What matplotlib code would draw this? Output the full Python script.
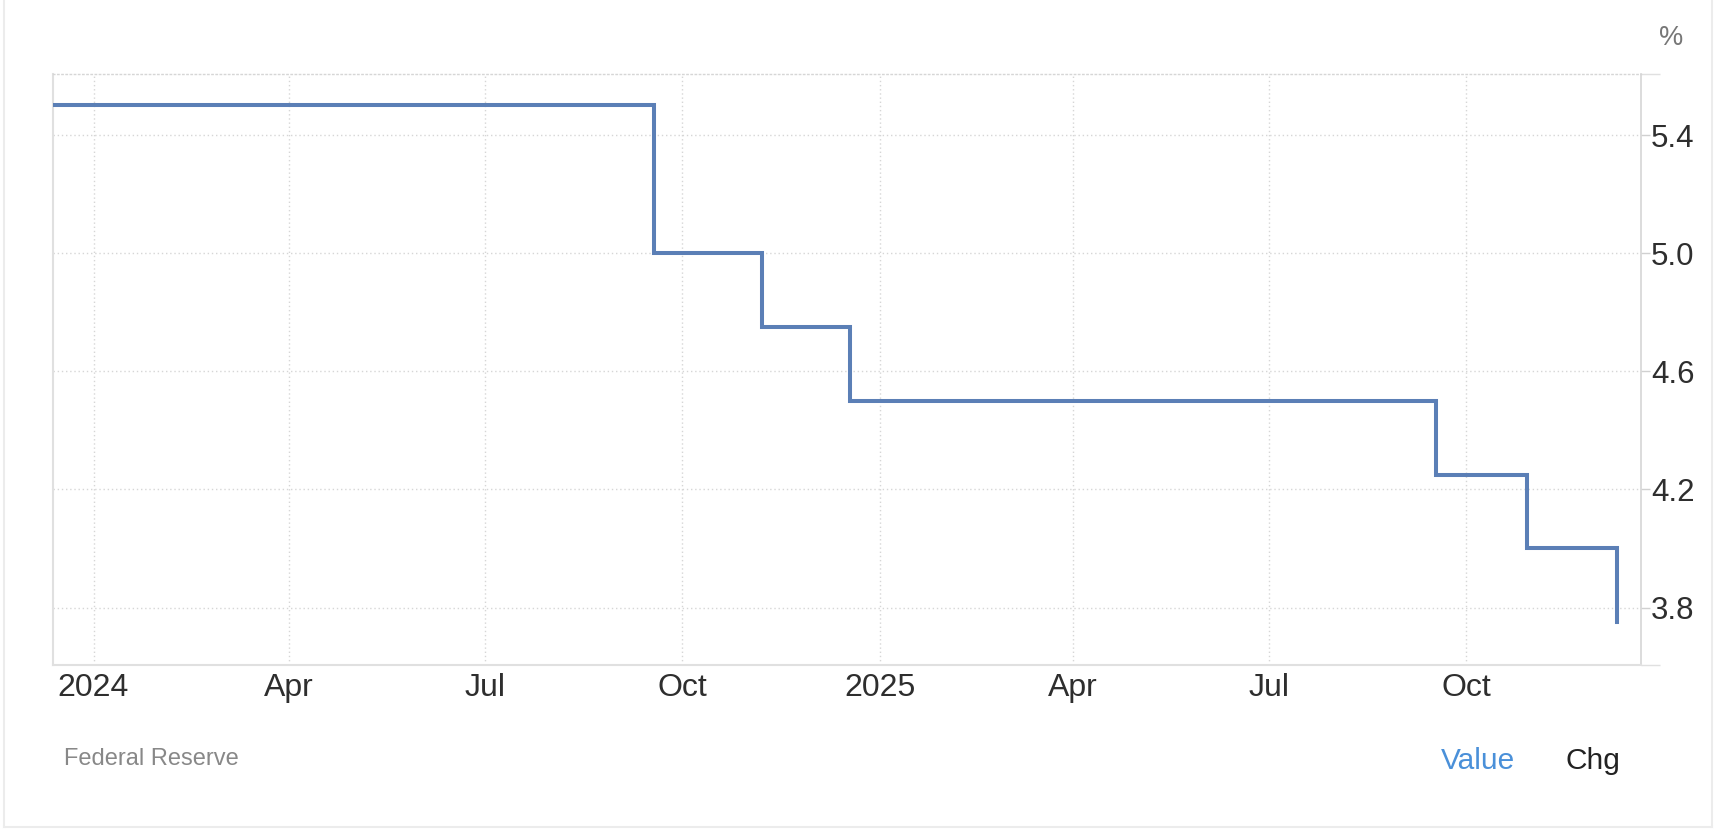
import matplotlib
matplotlib.use("Agg")
import matplotlib.pyplot as plt
import matplotlib.dates as mdates
from matplotlib.lines import Line2D
from datetime import datetime

plt.rcParams['font.family'] = ['Liberation Sans', 'DejaVu Sans']

# Fed funds target rate (upper bound), step changes
rate_dates = ['2023-12-13', '2024-09-18', '2024-11-07', '2024-12-18',
              '2025-09-17', '2025-10-29', '2025-12-10']
rate_values = [5.5, 5.0, 4.75, 4.5, 4.25, 4.0, 3.75]

x_tick_dates = ['2024-01-01', '2024-04-01', '2024-07-01', '2024-10-01',
                '2025-01-01', '2025-04-01', '2025-07-01', '2025-10-01']
x_tick_labels = ['2024', 'Apr', 'Jul', 'Oct', '2025', 'Apr', 'Jul', 'Oct']
y_ticks = [3.8, 4.2, 4.6, 5.0, 5.4]
y_tick_labels = ['3.8', '4.2', '4.6', '5.0', '5.4']

W, H = 1722, 833
fig = plt.figure(figsize=(W / 100, H / 100), dpi=100)
fig.patch.set_facecolor('white')

left, right, top, bottom = 52.7, 1640.5, 73.6, 664.5
ax = fig.add_axes([left / W, (H - bottom) / H, (right - left) / W, (bottom - top) / H])

dates = [datetime.strptime(d, '%Y-%m-%d') for d in rate_dates]
ax.step(dates, rate_values, where='post', color='#5b7fb6', lw=2.9,
        solid_joinstyle='miter', zorder=3)

ax.set_xlim(datetime(2023, 12, 13), datetime(2025, 12, 21))
ax.set_ylim(3.607, 5.608)

xt = [mdates.date2num(datetime.strptime(d, '%Y-%m-%d')) for d in x_tick_dates]
ax.set_xticks(xt)
ax.set_xticklabels(x_tick_labels)
ax.set_yticks(y_ticks)
ax.set_yticklabels(y_tick_labels)

ax.yaxis.tick_right()
ax.tick_params(axis='x', length=0, pad=6, labelsize=23, labelcolor='#2e2e2e')
ax.tick_params(axis='y', length=6.5, width=1, color='#d0d0d0', pad=1,
               labelsize=22.5, labelcolor='#2e2e2e')

# extra ticks at plot extremes on the right axis
ax.set_yticks([3.607, 5.608], minor=True)
ax.tick_params(axis='y', which='minor', length=14, width=1, color='#e0e0e0')

ax.grid(True, which='major', linestyle=(0, (1, 2)), color='#d6d6d6', lw=1)

for side in ['left', 'bottom']:
    ax.spines[side].set_color('#e0e0e0')
    ax.spines[side].set_linewidth(1.5)
ax.spines['right'].set_color('#d6d6d6')
ax.spines['right'].set_linewidth(1.2)
ax.spines['top'].set_color('#d6d6d6')
ax.spines['top'].set_linestyle((0, (1, 2)))
ax.spines['top'].set_linewidth(1)

fig.text(1671.5 / W, 1 - 38 / H, '%', fontsize=19.5, color='#777777',
         ha='center', va='center')
fig.text(64 / W, 1 - 759 / H, 'Federal Reserve', fontsize=17, color='#888888',
         ha='left', va='center')
fig.text(1478 / W, 1 - 761 / H, 'Value', fontsize=21.5, color='#4a90d9',
         ha='center', va='center')
fig.text(1593 / W, 1 - 761 / H, 'Chg', fontsize=21.5, color='#222222',
         ha='center', va='center')

# outer card border
border = '#ececec'
fig.add_artist(Line2D([3.5 / W, 3.5 / W], [1, 1 - 827 / H], color=border, lw=1.5))
fig.add_artist(Line2D([1712 / W, 1712 / W], [1, 1 - 827 / H], color=border, lw=1.5))
fig.add_artist(Line2D([3.5 / W, 1712 / W], [1 - 827 / H, 1 - 827 / H], color=border, lw=1.5))

fig.savefig('out.png', dpi=100)
